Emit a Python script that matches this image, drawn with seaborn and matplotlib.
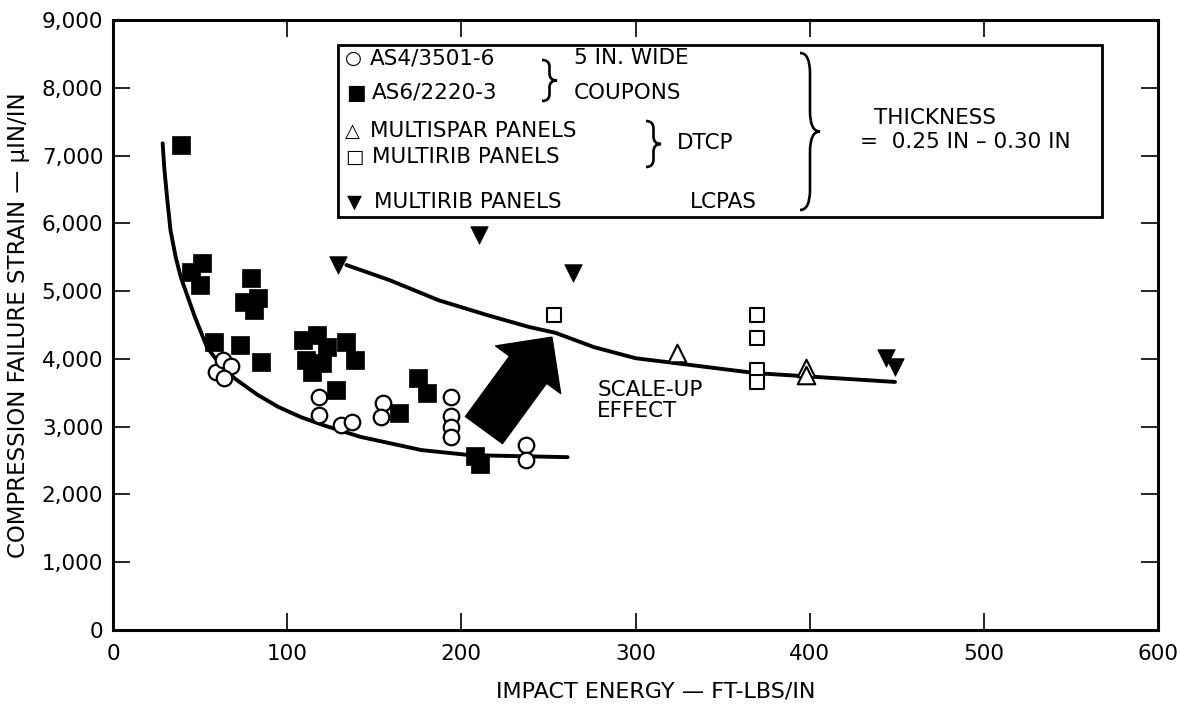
import matplotlib
matplotlib.use("Agg")
import matplotlib.pyplot as plt
from matplotlib.path import Path
from matplotlib.patches import PathPatch, Rectangle
from matplotlib.ticker import FuncFormatter
import seaborn as sns

# ---------------- data ----------------
as4_energy = [59, 63, 68, 64, 118, 118, 131, 137, 155, 154, 194, 194, 194, 194, 237, 237]
as4_strain = [3800, 3980, 3890, 3720, 3440, 3170, 3020, 3070, 3350, 3140, 3440, 3160, 2990, 2850, 2730, 2510]

as6_energy = [39, 51, 45, 50, 79, 75, 83, 81, 58, 73, 85, 109, 117, 123, 111, 120, 114, 134, 139, 128,
              164, 175, 180, 208, 211]
as6_strain = [7150, 5410, 5280, 5090, 5190, 4840, 4900, 4720, 4250, 4200, 3950, 4280, 4350, 4170, 3980,
              3940, 3800, 4250, 3980, 3540, 3200, 3720, 3500, 2560, 2450]

multispar_energy = [324, 398, 398]
multispar_strain = [4085, 3865, 3760]

multirib_energy = [253, 370, 370, 370, 370]
multirib_strain = [4645, 4645, 4305, 3835, 3660]

lcpas_energy = [129, 210, 264, 444, 449]
lcpas_strain = [5385, 5825, 5265, 4010, 3880]

coupon_curve_energy = [28.5, 29.5, 31, 33, 36, 39, 47, 54, 64, 71, 83, 95, 108, 121, 142, 177, 205, 261]
coupon_curve_strain = [7180, 6800, 6390, 5900, 5500, 5200, 4620, 4170, 3835, 3690, 3470, 3290, 3140, 3020,
                       2850, 2655, 2580, 2550]

panel_curve_energy = [134, 159, 187, 215, 239, 254, 276, 300, 319, 369, 406, 449]
panel_curve_strain = [5385, 5160, 4865, 4645, 4470, 4385, 4175, 4010, 3950, 3790, 3730, 3660]

arrow_tail = (213, 2950)
arrow_tip = (252, 4320)

x_ticks = [0, 100, 200, 300, 400, 500, 600]
y_ticks = [0, 1000, 2000, 3000, 4000, 5000, 6000, 7000, 8000, 9000]

# ---------------- style ----------------
sns.set_style("ticks")
plt.rcParams["font.family"] = ["DejaVu Sans"]
plt.rcParams["text.color"] = "black"
plt.rcParams["axes.labelcolor"] = "black"
plt.rcParams["xtick.color"] = "black"
plt.rcParams["ytick.color"] = "black"

W, H = 1180, 709
fig = plt.figure(figsize=(W / 100, H / 100), dpi=100)
ax = fig.add_axes([113 / W, 1 - 630 / H, (1158 - 113) / W, (630 - 20) / H])

def pf(px, py):
    return (px / W, 1 - py / H)

# ---------------- marks ----------------
sns.lineplot(x=coupon_curve_energy, y=coupon_curve_strain, sort=False, estimator=None,
             color="black", lw=2.8, ax=ax)
sns.lineplot(x=panel_curve_energy, y=panel_curve_strain, sort=False, estimator=None,
             color="black", lw=2.8, ax=ax)

sns.scatterplot(x=as6_energy, y=as6_strain, marker="s", s=150, color="black",
                edgecolor="black", linewidth=0.5, ax=ax, zorder=3)
sns.scatterplot(x=as4_energy, y=as4_strain, marker="o", s=125, facecolor="white",
                edgecolor="black", linewidth=1.6, ax=ax, zorder=4)
sns.scatterplot(x=multirib_energy, y=multirib_strain, marker="s", s=110, facecolor="white",
                edgecolor="black", linewidth=1.5, ax=ax, zorder=4)
sns.scatterplot(x=multispar_energy, y=multispar_strain, marker="^", s=160, facecolor="white",
                edgecolor="black", linewidth=1.5, ax=ax, zorder=4)
sns.scatterplot(x=lcpas_energy, y=lcpas_strain, marker="v", s=160, color="black",
                edgecolor="black", linewidth=0.5, ax=ax, zorder=4)

# scale-up arrow
ax.annotate("", xy=arrow_tip, xytext=arrow_tail,
            arrowprops=dict(arrowstyle="simple,head_length=29,head_width=58,tail_width=33",
                            mutation_scale=1, color="black", shrinkA=0, shrinkB=0), zorder=5)
ax.text(278, 3390, "SCALE-UP\nEFFECT", fontsize=15.5, ha="left", va="center", linespacing=1.05)

# ---------------- axes ----------------
ax.set_xlim(0, 600)
ax.set_ylim(0, 9000)
ax.set_xticks(x_ticks)
ax.set_yticks(y_ticks)
ax.yaxis.set_major_formatter(FuncFormatter(lambda v, p: f"{v:,.0f}"))
ax.tick_params(direction="in", length=12, width=1.2, top=True, right=True, labelsize=15.5)
ax.tick_params(axis="x", pad=10)
ax.tick_params(axis="y", pad=7)
for sp in ax.spines.values():
    sp.set_linewidth(2.2)
    sp.set_color("black")
ax.set_xlabel("IMPACT ENERGY — FT-LBS/IN", fontsize=16)
ax.set_ylabel("COMPRESSION FAILURE STRAIN — μIN/IN", fontsize=16.5)
ax.xaxis.set_label_coords(0.519, -0.085)
ax.yaxis.set_label_coords(-0.079, 0.5)

# ---------------- legend box ----------------
x0, y0 = pf(338, 217)
x1, y1 = pf(1102, 45)
fig.patches.append(Rectangle((x0, y0), x1 - x0, y1 - y0, transform=fig.transFigure,
                             fill=True, facecolor="white", edgecolor="black", lw=2.0, zorder=10))

def brace(xl, top, bot, w):
    xc = xl + w / 2
    mid = (top + bot) / 2
    r = min(w, (bot - top) / 6)
    pts = [(xl, top), (xc, top), (xc, top + r), (xc, mid - r), (xc, mid), (xl + w, mid),
           (xc, mid), (xc, mid + r), (xc, bot - r), (xc, bot), (xl, bot)]
    codes = [Path.MOVETO, Path.CURVE3, Path.CURVE3, Path.LINETO, Path.CURVE3, Path.CURVE3,
             Path.CURVE3, Path.CURVE3, Path.LINETO, Path.CURVE3, Path.CURVE3]
    verts = [pf(px, py) for px, py in pts]
    fig.patches.append(PathPatch(Path(verts, codes), transform=fig.transFigure, fill=False,
                                 lw=1.9, edgecolor="black", zorder=11))

brace(542, 60, 101, 15)
brace(646, 121, 167, 15)
brace(800, 53, 210, 20)

fs = 15.5
def ftext(px, py, s, size=fs, **kw):
    fig.text(*pf(px, py), s, fontsize=size, va="center", ha="left", zorder=12, **kw)

# legend symbols and labels
ftext(345, 58, "○", size=14)
ftext(346, 93, "■", size=15)
ftext(345, 131, "△", size=14)
ftext(345, 157, "□", size=14)
ftext(347, 202, "▼", size=14)
ftext(370, 58, "AS4/3501-6")
ftext(372, 93, "AS6/2220-3")
ftext(370, 131, "MULTISPAR PANELS")
ftext(372, 157, "MULTIRIB PANELS")
ftext(374, 202, "MULTIRIB PANELS")
ftext(574, 58, "5 IN. WIDE")
ftext(574, 93, "COUPONS")
ftext(677, 143, "DTCP")
ftext(690, 202, "LCPAS")
ftext(874, 118, "THICKNESS")
ftext(860, 142, "=  0.25 IN – 0.30 IN")

fig.savefig("out.png", dpi=100)
